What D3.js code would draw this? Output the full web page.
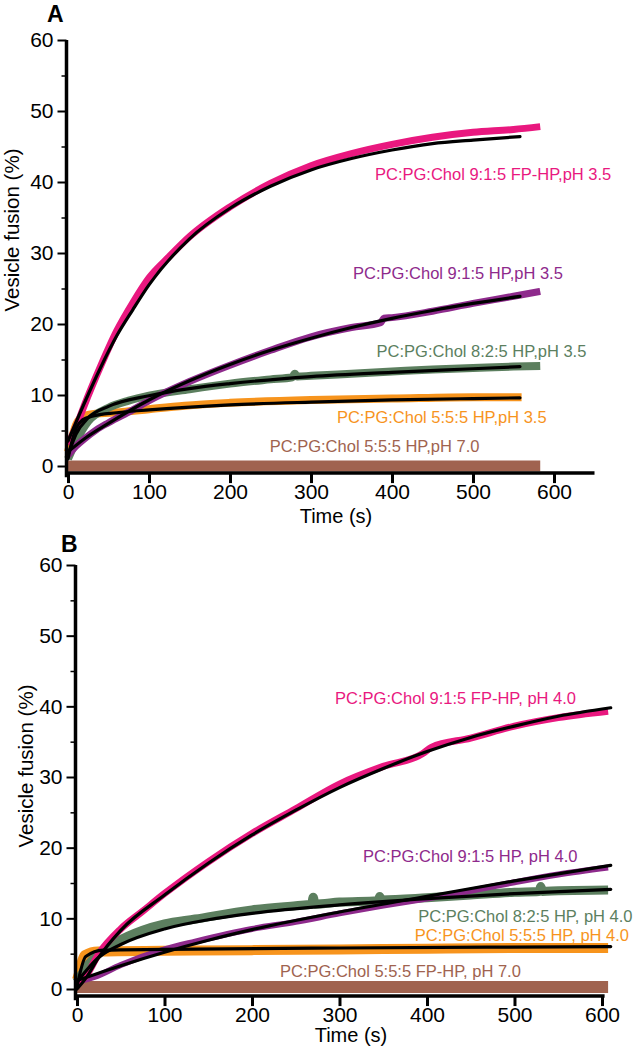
<!DOCTYPE html>
<html><head><meta charset="utf-8">
<script src="https://cdn.jsdelivr.net/npm/d3@7"></script>
<style>
body{margin:0;background:#fff}
svg{display:block;font-family:"Liberation Sans",Arial,Helvetica,sans-serif}
</style></head><body>
<svg id="chart" width="637" height="1050"></svg>
<script>
// ---------- tick labels ----------
const xTicksA = [0,100,200,300,400,500,600];
const xTicksB = [0,100,200,300,400,500,600];
const yTicks = [0,10,20,30,40,50,60];
const yMinorTicks = [5,15,25,35,45,55];

// ---------- series names ----------
const seriesA = ["brown","orange","green","purple","pink"];
const seriesB = ["brown","orange","green","purple","pink"];
const labelTextA = {
  pink:"PC:PG:Chol 9:1:5 FP-HP,pH 3.5",
  purple:"PC:PG:Chol 9:1:5 HP,pH 3.5",
  green:"PC:PG:Chol 8:2:5 HP,pH 3.5",
  orange:"PC:PG:Chol 5:5:5 HP,pH 3.5",
  brown:"PC:PG:Chol 5:5:5 HP,pH 7.0"
};
const labelTextB = {
  pink:"PC:PG:Chol 9:1:5 FP-HP, pH 4.0",
  purple:"PC:PG:Chol 9:1:5 HP, pH 4.0",
  green:"PC:PG:Chol 8:2:5 HP, pH 4.0",
  orange:"PC:PG:Chol 5:5:5 HP, pH 4.0",
  brown:"PC:PG:Chol 5:5:5 FP-HP, pH 7.0"
};

// ---------- panel A data [time s, fusion %] ----------
const aPink = [[0,3],[10,5.5],[20,8.5],[40,14],[60,19],[80,23],[100,26.5],[125,29.5],[150,32.3],[200,36.5],[250,39.8],[300,42.3],[350,44],[400,45.3],[450,46.3],[500,47],[550,47.4],[583,47.8]];
const aPinkFit = [[0,3.5],[20,8.8],[40,13.8],[60,18.3],[80,22],[100,25.5],[150,32],[200,36.3],[250,39.4],[300,41.7],[350,43.3],[400,44.5],[450,45.4],[500,45.9],[558,46.4]];
const aPurple = [[0,1.5],[10,2.8],[20,3.8],[35,5.1],[50,6.1],[80,7.9],[100,9.2],[150,11.9],[200,14.2],[250,16.3],[300,18.2],[350,19.5],[386,20.2],[390,20.8],[400,20.9],[450,21.8],[500,22.9],[550,23.9],[583,24.6]];
const aPurpleFit = [[0,2],[20,3.8],[50,6],[100,9.3],[150,12],[200,14.3],[250,16.3],[300,18],[350,19.5],[400,20.8],[450,21.9],[500,22.9],[558,23.9]];
const aGreen = [[0,1],[10,3.5],[25,6.3],[50,8.2],[75,9.2],[100,9.9],[150,10.8],[200,11.6],[250,12.2],[277,12.5],[280,13],[283,12.6],[300,12.7],[350,13],[400,13.3],[450,13.6],[500,13.8],[550,14],[583,14.1]];
const aGreenFit = [[0,1.5],[10,4.5],[25,6.8],[50,8.4],[100,9.9],[150,10.9],[200,11.6],[300,12.6],[400,13.2],[500,13.7],[558,14]];
const aOrange = [[0,2],[5,4],[10,5.8],[18,6.9],[30,7.3],[67,7.6],[100,8],[144,8.5],[200,8.9],[300,9.3],[400,9.5],[500,9.7],[560,9.7]];
const aOrangeFit = [[0,1],[5,3.5],[10,5.3],[18,6.5],[30,7],[60,7.5],[100,7.9],[200,8.6],[300,9],[400,9.3],[500,9.5],[558,9.6]];
const aBrown = [[-3,0],[100,0],[200,0],[300,0],[400,0],[500,0],[583,0]];

// ---------- panel B data [time s, fusion %] ----------
const bPink = [[0,0.8],[10,1.8],[25,5],[50,8.5],[75,11],[100,13.5],[150,18],[200,22],[250,25.5],[300,29],[350,31.5],[395,33.3],[405,34.2],[450,35.5],[500,37.2],[550,38.4],[607,39.3]];
const bPinkFit = [[0,0],[10,1.5],[25,4.5],[50,8.3],[100,13.3],[150,17.8],[200,21.8],[250,25.3],[300,28.5],[350,31.2],[400,33.6],[450,35.6],[500,37.2],[550,38.6],[610,39.8]];
const bPurple = [[0,1],[20,1.7],[50,3.4],[100,5.6],[135,6.7],[200,8.5],[250,9.5],[300,10.7],[350,11.8],[400,12.8],[450,13.9],[500,15.1],[550,16.2],[607,17.2]];
const bPurpleFit = [[0,1.2],[50,3.3],[100,5.2],[150,6.9],[200,8.4],[300,10.9],[400,13.1],[500,15.3],[610,17.5]];
const bGreen = [[0,1],[10,3],[25,5],[43,6.5],[75,8.3],[100,9.2],[135,9.9],[200,11.2],[250,11.8],[268,12],[270,13],[272,12],[300,12.3],[344,12.5],[346,13.1],[348,12.6],[400,12.9],[450,13.3],[500,13.7],[528,13.8],[530,14.5],[532,13.8],[550,13.9],[607,14]];
const bGreenFit = [[0,1],[25,4.5],[50,6.3],[100,8.5],[150,9.8],[200,10.7],[300,11.9],[400,12.8],[500,13.5],[610,14.1]];
const bOrange = [[0,1.3],[3,2.5],[6,4],[9,4.8],[24,5.3],[100,5.4],[200,5.5],[300,5.6],[400,5.7],[500,5.8],[607,5.8]];
const bOrangeFit = [[0,0.3],[10,4.6],[30,5.5],[100,5.6],[300,5.8],[610,6]];
const bBrown = [[-3,0.3],[100,0.3],[200,0.3],[300,0.3],[400,0.3],[500,0.3],[607,0.3]];

// ---------- styling / layout ----------
const colors = {pink:"#E9187F", purple:"#8E2A8C", green:"#5C7F5F", orange:"#F7941D", brown:"#A0634F"};
const FONT_TICK = 21, FONT_LABEL = 16.5;

const svg = d3.select("#chart");

function drawPanel(cfg){
  const g = svg.append("g");
  const x = d3.scaleLinear().domain(cfg.xDomain).range(cfg.xRange);
  const y = d3.scaleLinear().domain([0,60]).range(cfg.yRange);
  const line = d3.line().x(d=>x(d[0])).y(d=>y(d[1])).curve(d3.curveMonotoneX);

  // data bands
  cfg.series.forEach(k=>{
    g.append("path").datum(cfg.data[k])
      .attr("d", line).attr("fill","none")
      .attr("stroke", colors[k]).attr("stroke-width", cfg.widths[k])
      .attr("stroke-linejoin","round").attr("stroke-linecap","butt");
  });
  // fits
  cfg.series.forEach(k=>{
    if(!cfg.fits[k]) return;
    g.append("path").datum(cfg.fits[k])
      .attr("d", line).attr("fill","none")
      .attr("stroke","#000").attr("stroke-width",3.2)
      .attr("stroke-linejoin","round").attr("stroke-linecap","round");
  });

  const axX = x(0) - 1.5;
  // y axis
  const yAx = g.append("g").attr("transform",`translate(${axX},0)`)
    .call(d3.axisLeft(y).tickValues(yTicks).tickSize(9).tickPadding(4).tickSizeOuter(0));
  yAx.select(".domain").remove();
  yAx.selectAll(".tick line").attr("stroke-width",2);
  yAx.selectAll(".tick text").attr("font-size",FONT_TICK).attr("fill","#000");
  const yMin = g.append("g").attr("transform",`translate(${axX},0)`)
    .call(d3.axisLeft(y).tickValues(yMinorTicks).tickSize(5).tickFormat("").tickSizeOuter(0));
  yMin.select(".domain").remove();
  yMin.selectAll(".tick line").attr("stroke-width",1.5);
  g.append("line").attr("x1",axX).attr("x2",axX)
    .attr("y1",y(60)).attr("y2",y(-1.6))
    .attr("stroke","#000").attr("stroke-width",3.5);

  // x axis
  const axY = y(-1);
  const xAx = g.append("g").attr("transform",`translate(0,${axY})`)
    .call(d3.axisBottom(x).tickValues(cfg.xTicks).tickSize(10).tickPadding(1).tickSizeOuter(0));
  xAx.select(".domain").remove();
  xAx.selectAll(".tick line").attr("stroke-width",3);
  xAx.selectAll(".tick text").attr("font-size",FONT_TICK).attr("fill","#000");
  g.append("line").attr("x1",axX-1.5).attr("x2",x(cfg.xDomain[1]))
    .attr("y1",axY).attr("y2",axY)
    .attr("stroke","#000").attr("stroke-width",3.5);

  // axis titles
  g.append("text").attr("x",cfg.xTitlePos[0]).attr("y",cfg.xTitlePos[1])
    .attr("text-anchor","middle").attr("font-size",20).text("Time (s)");
  g.append("text").attr("transform",`translate(${cfg.yTitlePos[0]},${cfg.yTitlePos[1]}) rotate(-90)`)
    .attr("text-anchor","middle").attr("font-size",20.5).text("Vesicle fusion (%)");
  // panel letter
  g.append("text").attr("x",cfg.letterPos[0]).attr("y",cfg.letterPos[1])
    .attr("font-size",23).attr("font-weight","bold").text(cfg.letter);

  // series labels
  cfg.series.forEach(k=>{
    const p = cfg.labelAt[k];
    g.append("text").attr("x",x(p[0])).attr("y",y(p[1]))
      .attr("font-size",FONT_LABEL).attr("fill",colors[k]).text(cfg.labels[k]);
  });
}

drawPanel({
  letter:"A", letterPos:[47,22],
  xDomain:[0,650], xRange:[68,594.5], yRange:[466,40],
  xTicks:xTicksA, series:seriesA, labels:labelTextA,
  data:{pink:aPink,purple:aPurple,green:aGreen,orange:aOrange,brown:aBrown},
  fits:{pink:aPinkFit,purple:aPurpleFit,green:aGreenFit,orange:aOrangeFit},
  widths:{pink:7,purple:7,green:8,orange:8,brown:11},
  labelAt:{pink:[379,40.3],purple:[352,26.3],green:[381,15.35],orange:[332,6.06],brown:[249,1.97]},
  xTitlePos:[336,523], yTitlePos:[19,230]
});
drawPanel({
  letter:"B", letterPos:[61,552],
  xDomain:[0,603], xRange:[77,604.6], yRange:[989,565],
  xTicks:xTicksB, series:seriesB, labels:labelTextB,
  data:{pink:bPink,purple:bPurple,green:bGreen,orange:bOrange,brown:bBrown},
  fits:{pink:bPinkFit,purple:bPurpleFit,green:bGreenFit,orange:bOrangeFit},
  widths:{pink:7,purple:6,green:9,orange:10,brown:12},
  labelAt:{pink:[295,40.3],purple:[327,17.96],green:[390,9.48],orange:[386,6.79],brown:[232,1.7]},
  xTitlePos:[351,1042], yTitlePos:[33,766]
});
</script>
</body></html>
